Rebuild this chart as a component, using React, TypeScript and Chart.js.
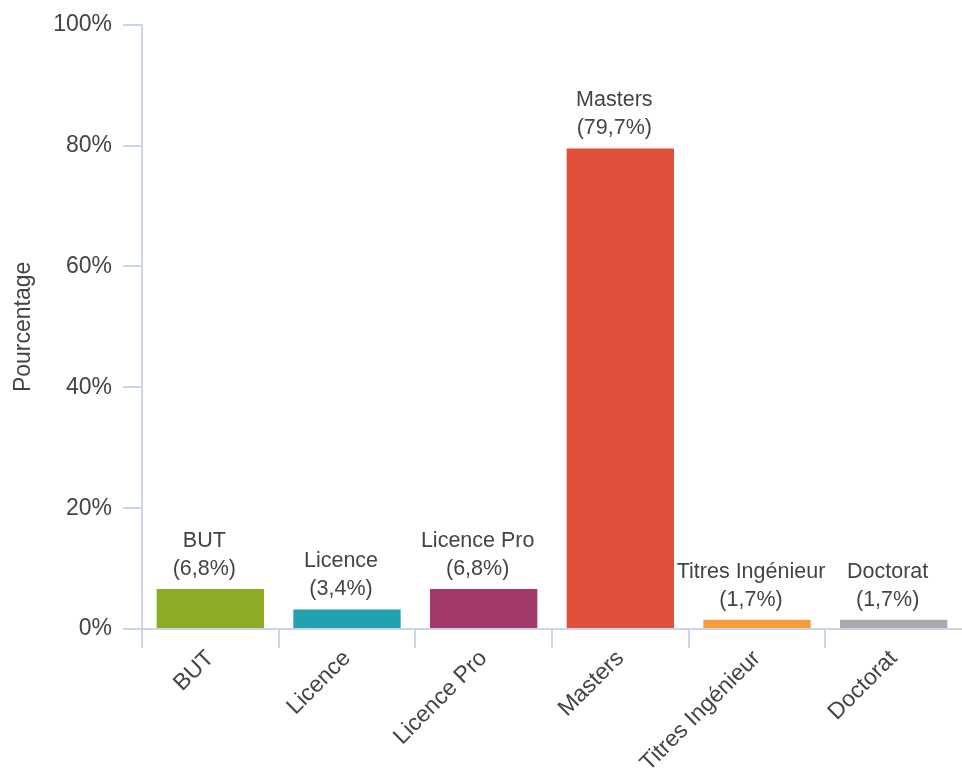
import React, { useEffect, useRef } from "react";
import { Chart, registerables } from "chart.js";

Chart.register(...registerables);

const categories = ["BUT", "Licence", "Licence Pro", "Masters", "Titres Ingénieur", "Doctorat"];
const values = [6.8, 3.4, 6.8, 79.7, 1.7, 1.7];
const valueLabels = ["(6,8%)", "(3,4%)", "(6,8%)", "(79,7%)", "(1,7%)", "(1,7%)"];
const barColors = ["#8bac24", "#22a1ae", "#a3396a", "#e04f39", "#f89b3a", "#aaaaaa"];
const yTicks = [0, 20, 40, 60, 80, 100];

const FONT = "'Liberation Sans', Arial, sans-serif";
const TEXT = "#444444";
const AXIS = "#ccd6eb";

const labelPlugin = {
  id: "twoLineLabels",
  afterDatasetsDraw(chart: any) {
    const ctx = chart.ctx;
    const meta = chart.getDatasetMeta(0);
    ctx.save();
    ctx.font = `21.5px ${FONT}`;
    ctx.fillStyle = TEXT;
    ctx.textAlign = "center";
    ctx.textBaseline = "middle";
    meta.data.forEach((bar: any, i: number) => {
      const x = bar.x - 6;
      const top = bar.y;
      ctx.fillText(valueLabels[i], x, top - 19);
      ctx.fillText(categories[i], x, top - 47);
    });
    ctx.restore();
  },
};

export default function App() {
  const ref = useRef<HTMLCanvasElement | null>(null);
  useEffect(() => {
    if (!ref.current) return;
    const chart = new Chart(ref.current, {
      type: "bar",
      data: {
        labels: categories,
        datasets: [
          {
            data: values,
            backgroundColor: barColors,
            borderColor: "#ffffff",
            borderWidth: 1,
            categoryPercentage: 1,
            barPercentage: 0.8,
          },
        ],
      },
      options: {
        responsive: true,
        maintainAspectRatio: false,
        animation: false,
        layout: { padding: { top: 23, left: 0, right: 0, bottom: 0 } },
        plugins: {
          legend: { display: false },
          tooltip: { enabled: false },
        },
        scales: {
          x: {
            afterFit: (s: any) => {
              s.height = 142;
            },
            grid: {
              offset: true,
              drawOnChartArea: false,
              drawTicks: true,
              tickLength: 19,
              lineWidth: 2,
              color: (c: any) =>
                typeof c.index !== "number" || c.index >= categories.length ? "rgba(0,0,0,0)" : AXIS,
            },
            border: { color: AXIS, width: 2 },
            ticks: {
              autoSkip: false,
              minRotation: 45,
              maxRotation: 45,
              padding: -3,
              color: TEXT,
              font: { family: FONT, size: 23 },
            },
          },
          y: {
            min: 0,
            max: 100,
            afterFit: (s: any) => {
              s.width = 142;
            },
            afterBuildTicks: (s: any) => {
              s.ticks = yTicks.map((v) => ({ value: v }));
            },
            grid: {
              drawOnChartArea: false,
              drawTicks: true,
              tickLength: 19,
              lineWidth: 2,
              color: AXIS,
            },
            border: { color: AXIS, width: 2 },
            ticks: {
              padding: 11,
              color: TEXT,
              font: { family: FONT, size: 23 },
              callback: (v: any) => `${v}%`,
            },
            title: {
              display: true,
              text: "Pourcentage",
              color: TEXT,
              font: { family: FONT, size: 23 },
              padding: { top: 10, bottom: 0 },
            },
          },
        },
      },
      plugins: [labelPlugin],
    });
    return () => chart.destroy();
  }, []);
  return (
    <div style={{ position: "absolute", left: 0, top: 0, width: 962, height: 771, background: "#ffffff" }}>
      <canvas ref={ref} />
    </div>
  );
}
